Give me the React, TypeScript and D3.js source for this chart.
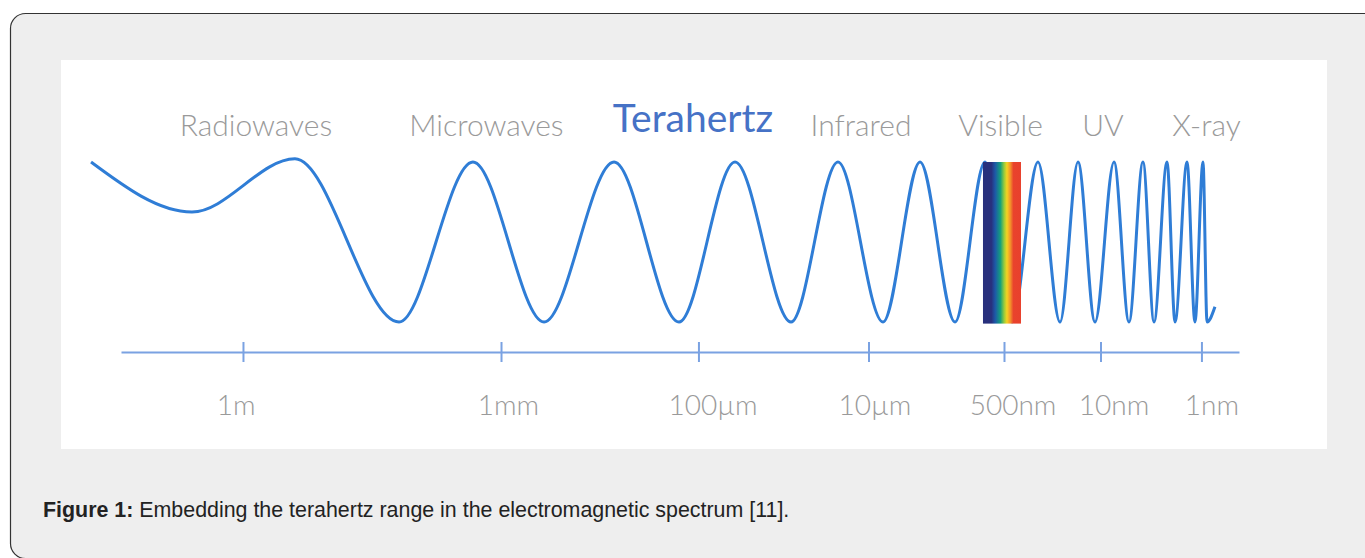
import React, { useEffect, useRef } from 'react';
import * as d3 from 'd3';

// positions along the spectrum axis, 0..100 = left..right end of the axis line
const bandNames = ['Radiowaves', 'Microwaves', 'Terahertz', 'Infrared', 'Visible', 'UV', 'X-ray'];
const bandNamePos = [12.07, 32.69, 51.16, 66.19, 78.67, 87.84, 97.09];

const tickPos = [10.91, 33.99, 51.65, 66.86, 78.98, 87.61, 96.64];
const tickLabels = ['1m', '1mm', '100µm', '10µm', '500nm', '10nm', '1nm'];
const tickLabelPos = [10.29, 34.66, 52.95, 67.44, 79.79, 88.82, 97.58];

// wave turning points (position, amplitude)
const waveX = [
    -2.68, 6.35, 15.56, 24.87, 31.48, 37.84, 44.10, 49.91, 54.92, 59.93, 64.13, 68.16,
    71.47, 74.60, 77.28, 79.70, 82.02, 83.99, 85.60, 87.12, 88.82, 90.16, 91.41, 92.40,
    93.56, 94.28, 95.35, 96.06, 96.78, 97.14, 97.85
];
const waveY = [
    1.0, 0.375, 1.04, -1, 1, -1, 1, -1, 1, -1, 1, -1,
    1, -1, 1, -1, 1, -1, 1, -1, 1, -1, 1, -1,
    1, -1, 1, -1, 1, -1, -0.81
];

// visible light strip
const visibleBand = [77.10, 80.50];
const visibleColors = ['#28307c', '#28307c', '#1d58a8', '#15a07c', '#9ccc3a', '#f4d321', '#f2922a', '#e9432d', '#e8402c'];
const visibleStops = [0, 0.22, 0.32, 0.46, 0.56, 0.63, 0.72, 0.8, 1];

const App = () => {
    const ref = useRef<SVGSVGElement>(null);

    useEffect(() => {
        document.body.style.margin = '0';
        const svg = d3.select(ref.current);
        svg.selectAll('*').remove();

        // page frame + white figure panel
        svg.append('rect')
            .attr('x', 10.5).attr('y', 13.5)
            .attr('width', 1400).attr('height', 545)
            .attr('rx', 15)
            .attr('fill', '#eeeeee')
            .attr('stroke', '#333')
            .attr('stroke-width', 1.2);
        svg.append('rect')
            .attr('x', 61).attr('y', 60)
            .attr('width', 1266).attr('height', 389)
            .attr('fill', '#fff');

        const x = d3.scaleLinear().domain([0, 100]).range([121, 1239]);
        const y = d3.scaleLinear().domain([-1, 1]).range([322, 162]);

        // visible band gradient
        const grad = svg.append('defs').append('linearGradient')
            .attr('id', 'vis').attr('x1', 0).attr('x2', 1).attr('y1', 0).attr('y2', 0);
        visibleColors.forEach((c, i) => {
            grad.append('stop').attr('offset', visibleStops[i]).attr('stop-color', c);
        });

        const pts = waveX.map((v, i) => [v, waveY[i]] as [number, number]);
        svg.append('path')
            .datum(pts)
            .attr('fill', 'none')
            .attr('stroke', '#2f7dd6')
            .attr('stroke-width', 3)
            .attr('stroke-linejoin', 'round')
            .attr('d', d3.line<[number, number]>()
                .x(d => x(d[0]))
                .y(d => y(d[1]))
                .curve(d3.curveMonotoneX));

        svg.append('rect')
            .attr('x', x(visibleBand[0]))
            .attr('y', y(1))
            .attr('width', x(visibleBand[1]) - x(visibleBand[0]))
            .attr('height', y(-1.02) - y(1))
            .attr('fill', 'url(#vis)');

        // wavelength axis
        const axis = svg.append('g')
            .attr('transform', 'translate(0,352)')
            .call(d3.axisBottom(x).tickValues(tickPos).tickSizeOuter(0).tickFormat(() => ''));
        axis.select('.domain').attr('stroke', '#7aa2e2').attr('stroke-width', 2);
        axis.selectAll('.tick line')
            .attr('stroke', '#7aa2e2').attr('stroke-width', 2)
            .attr('y1', -10).attr('y2', 10);

        svg.append('g').selectAll('text')
            .data(tickLabels)
            .join('text')
            .attr('x', (d, i) => x(tickLabelPos[i]))
            .attr('y', 415)
            .attr('text-anchor', 'middle')
            .attr('font-family', 'Lato')
            .attr('font-weight', 300)
            .attr('font-size', 28)
            .attr('fill', '#9a9a9a')
            .text(d => d);

        svg.append('g').selectAll('text')
            .data(bandNames)
            .join('text')
            .attr('x', (d, i) => x(bandNamePos[i]))
            .attr('y', (d, i) => (i === 2 ? 132 : 136))
            .attr('text-anchor', 'middle')
            .attr('font-family', 'Lato')
            .attr('font-weight', (d, i) => (i === 2 ? 400 : 300))
            .attr('font-size', (d, i) => (i === 2 ? 39 : 30))
            .attr('fill', (d, i) => (i === 2 ? '#4672c6' : '#9a9a9a'))
            .text(d => d);

        // caption
        const cap = svg.append('text')
            .attr('x', 43).attr('y', 517)
            .attr('font-family', 'Liberation Sans, Arial, sans-serif')
            .attr('font-size', 21.4)
            .attr('fill', '#222');
        cap.append('tspan').attr('font-weight', 'bold').text('Figure 1:');
        cap.append('tspan').text(' Embedding the terahertz range in the electromagnetic spectrum [11].');
    }, []);

    return (
        <div style={{ position: 'absolute', left: 0, top: 0 }}>
            <svg ref={ref} width={1365} height={558} style={{ display: 'block' }}></svg>
        </div>
    );
};

export default App;
